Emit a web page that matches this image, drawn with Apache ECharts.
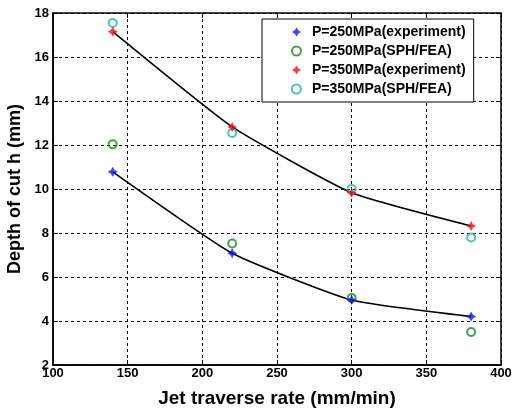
<!DOCTYPE html>
<html>
<head>
<meta charset="utf-8">
<script src="https://cdn.jsdelivr.net/npm/echarts@6/dist/echarts.min.js"></script>
<style>html,body{margin:0;padding:0;background:#fff}#c{width:512px;height:410px}</style>
</head>
<body>
<div id="c"></div>
<script>
const rates = [140, 220, 300, 380];
const exp250 = [10.78, 7.08, 4.95, 4.2];
const sim250 = [12.03, 7.52, 5.05, 3.5];
const exp350 = [17.15, 12.82, 9.83, 8.32];
const sim350 = [17.55, 12.55, 10.0, 7.8];
const names = ['P=250MPa(experiment)', 'P=250MPa(SPH/FEA)', 'P=350MPa(experiment)', 'P=350MPa(SPH/FEA)'];
const xTicks = [100, 150, 200, 250, 300, 350, 400];
const yTicks = [2, 4, 6, 8, 10, 12, 14, 16, 18];

const pts = arr => rates.map((x, i) => [x, arr[i]]);
const star = 'path://M0,-6 L2.2,-2.2 L6,0 L2.2,2.2 L0,6 L-2.2,2.2 L-6,0 L-2.2,-2.2 Z';
const font = 'Liberation Sans, Arial, sans-serif';

const chart = echarts.init(document.getElementById('c'), null, {renderer: 'canvas'});
const axisCommon = {
  axisLine: {show: true, onZero: false, lineStyle: {color: '#000', width: 1.5}},
  axisTick: {show: true, inside: true, length: 5, lineStyle: {color: '#000', width: 1}},
  splitLine: {show: true, lineStyle: {color: '#000', type: [3, 3], width: 1}},
  axisLabel: {color: '#000', fontWeight: 'bold', fontSize: 13, fontFamily: font},
  nameTextStyle: {color: '#000', fontWeight: 'bold', fontSize: 19, fontFamily: font}
};
chart.setOption({
  animation: false,
  backgroundColor: '#fff',
  grid: {left: 53, top: 13, right: 11, bottom: 45, show: true, borderColor: '#000', borderWidth: 1.5,
         containLabel: false, outerBoundsMode: 'none'},
  xAxis: [Object.assign({}, axisCommon, {
    type: 'value', min: 100, max: 400, interval: 50,
    name: 'Jet traverse rate (mm/min)', nameLocation: 'middle', nameGap: 24,
    axisLabel: Object.assign({}, axisCommon.axisLabel, {margin: 2, formatter: v => xTicks.includes(v) ? String(v) : ''})
  }), {
    type: 'value', min: 100, max: 400, interval: 50, position: 'top',
    axisLine: {show: false}, axisLabel: {show: false}, splitLine: {show: false},
    axisTick: {show: true, inside: true, length: 5, lineStyle: {color: '#000'}}
  }],
  yAxis: [Object.assign({}, axisCommon, {
    type: 'value', min: 2, max: 18, interval: 2,
    name: 'Depth of cut h (mm)', nameLocation: 'middle', nameGap: 29,
    nameTextStyle: Object.assign({}, axisCommon.nameTextStyle, {fontSize: 18}),
    axisLabel: Object.assign({}, axisCommon.axisLabel, {margin: 4, formatter: v => yTicks.includes(v) ? String(v) : ''})
  }), {
    type: 'value', min: 2, max: 18, interval: 2, position: 'right',
    axisLine: {show: false}, axisLabel: {show: false}, splitLine: {show: false},
    axisTick: {show: true, inside: true, length: 5, lineStyle: {color: '#000'}}
  }],
  legend: {
    orient: 'vertical', left: 262, top: 19,
    backgroundColor: '#fff', borderColor: '#000', borderWidth: 1, borderRadius: 0,
    padding: [5, 8, 5, 29], itemGap: 3, itemWidth: 9, itemHeight: 9,
    textStyle: {color: '#000', fontWeight: 'bold', fontSize: 14, fontFamily: font, padding: [0, 0, 0, 6], lineHeight: 16},
    data: names.map(n => ({name: n}))
  },
  series: [
    {type: 'line', data: pts(exp250), smooth: 0.15, showSymbol: false, symbol: 'none', lineStyle: {color: '#000', width: 1.6}, silent: true, z: 1},
    {type: 'line', data: pts(exp350), smooth: 0.15, showSymbol: false, symbol: 'none', lineStyle: {color: '#000', width: 1.6}, silent: true, z: 1},
    {name: names[0], type: 'scatter', data: pts(exp250), symbol: star, symbolSize: 10, itemStyle: {color: '#1010ee'}, z: 3},
    {name: names[1], type: 'scatter', data: pts(sim250), symbol: 'circle', symbolSize: 8, itemStyle: {color: 'transparent', borderColor: '#1a8a1a', borderWidth: 2}, z: 2},
    {name: names[2], type: 'scatter', data: pts(exp350), symbol: star, symbolSize: 10, itemStyle: {color: '#ee1010'}, z: 3},
    {name: names[3], type: 'scatter', data: pts(sim350), symbol: 'circle', symbolSize: 8, itemStyle: {color: 'transparent', borderColor: '#22b0b0', borderWidth: 2}, z: 2}
  ]
});
</script>
</body>
</html>
